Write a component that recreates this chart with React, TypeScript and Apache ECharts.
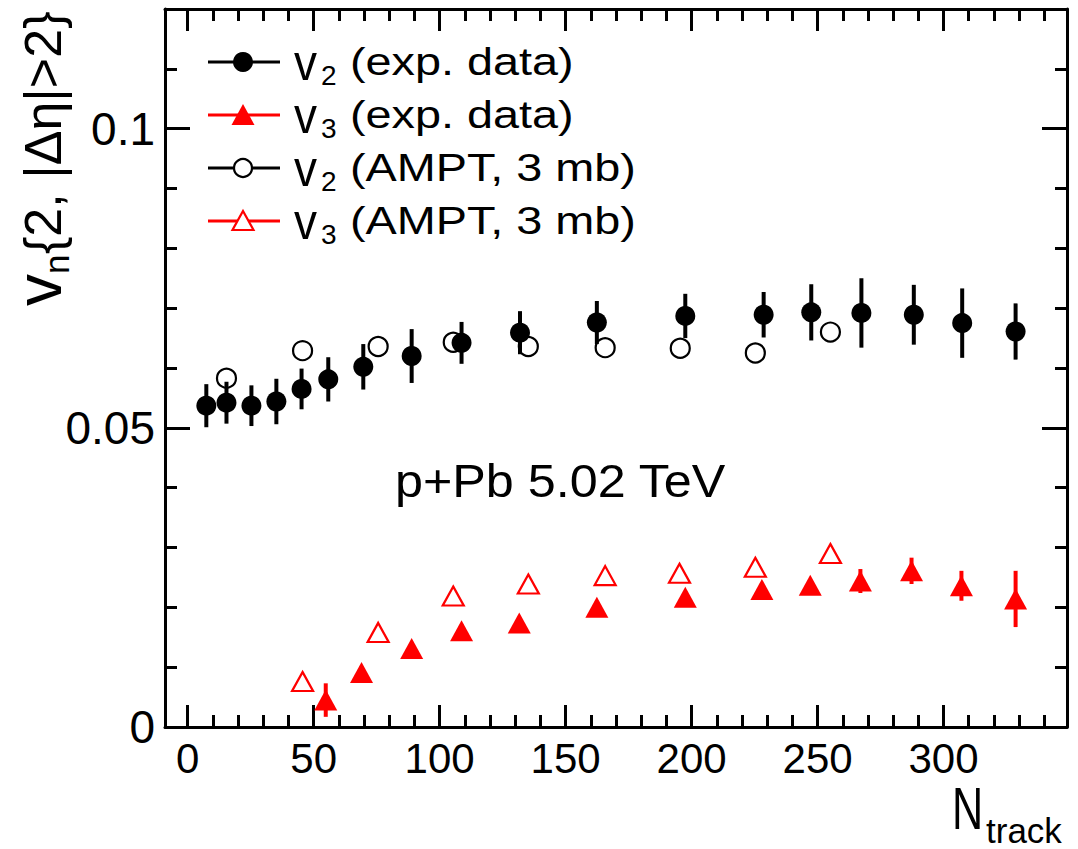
import React, { useEffect, useRef } from "react";
import * as echarts from "echarts";

const FONT = '"Liberation Sans", Arial, Helvetica, sans-serif';

// ---- axis ranges & ticks ----
const X_MIN = -9;
const X_MAX = 349;
const Y_MIN = 0;
const Y_MAX = 0.12;
const xLabelValues = [0, 50, 100, 150, 200, 250, 300];
const xMajorTicks = [0, 50, 100, 150, 200, 250, 300];
const xMinorTicks = [0, 10, 20, 30, 40, 50, 60, 70, 80, 90, 100, 110, 120, 130, 140, 150, 160, 170, 180, 190, 200, 210, 220, 230, 240, 250, 260, 270, 280, 290, 300, 310, 320, 330, 340];
const yLabelValues = [0, 0.05, 0.1];
const yMajorTicks = [0, 0.05, 0.1];
const yMinorTicks = [0, 0.01, 0.02, 0.03, 0.04, 0.05, 0.06, 0.07, 0.08, 0.09, 0.1, 0.11, 0.12];

// ---- v2 experimental data ----
const v2ExpX = [7.4, 15.4, 25.3, 35.2, 45.2, 55.8, 69.7, 88.9, 108.7, 131.9, 162.4, 197.5, 228.6, 247.5, 267.4, 288.2, 307.4, 328.6];
const v2ExpY = [0.0537, 0.0542, 0.0537, 0.0544, 0.0565, 0.0581, 0.0602, 0.062, 0.0642, 0.0659, 0.0676, 0.0687, 0.0689, 0.0693, 0.0692, 0.0689, 0.0675, 0.0661];
const v2ExpErr = [0.0036, 0.0035, 0.0034, 0.0038, 0.0034, 0.0037, 0.0038, 0.0045, 0.0035, 0.0036, 0.0036, 0.0037, 0.0038, 0.0047, 0.0058, 0.005, 0.0058, 0.0047];

// ---- v3 experimental data ----
const v3ExpX = [54.8, 69.0, 88.9, 108.7, 131.6, 162.4, 197.5, 227.9, 247.1, 267.0, 287.3, 307.1, 328.6];
const v3ExpY = [0.0045, 0.0091, 0.0131, 0.0161, 0.0174, 0.02, 0.0217, 0.023, 0.0237, 0.0244, 0.0261, 0.0236, 0.0214];
const v3ExpErr = [0.0028, 0.001, 0.001, 0.001, 0.001, 0.001, 0.001, 0.001, 0.001, 0.002, 0.0022, 0.0025, 0.0047];

// ---- AMPT ----
const v2AmptX = [15.4, 45.6, 75.6, 105.4, 135.2, 165.7, 195.5, 225.3, 255.1];
const v2AmptY = [0.0583, 0.0629, 0.0636, 0.0643, 0.0636, 0.0634, 0.0633, 0.0625, 0.066];
const v3AmptX = [45.6, 75.6, 105.4, 135.2, 165.7, 195.2, 225.3, 255.1];
const v3AmptY = [0.0076, 0.0158, 0.0219, 0.0239, 0.0253, 0.0257, 0.0267, 0.029];

// ---- legend ----
const legendMain = ["v", "v", "v", "v"];
const legendSub = ["2", "3", "2", "3"];
const legendRest = ["(exp. data)", "(exp. data)", "(AMPT, 3 mb)", "(AMPT, 3 mb)"];

const RED = "#ff0000";
const BLACK = "#000000";

const zip = (a: number[], b: number[]) => a.map((v, i) => [v, b[i]]);
const zip3 = (a: number[], b: number[], c: number[]) => a.map((v, i) => [v, b[i], c[i]]);

function errorSeries(data: number[][], color: string) {
  return {
    type: "custom",
    silent: true,
    z: 2,
    data,
    encode: { x: 0, y: 1 },
    renderItem: (_p: any, api: any) => {
      const x = api.value(0);
      const y = api.value(1);
      const e = api.value(2);
      const a = api.coord([x, y - e]);
      const b = api.coord([x, y + e]);
      return {
        type: "line",
        shape: { x1: a[0], y1: a[1], x2: b[0], y2: b[1] },
        style: { stroke: color, lineWidth: 4 },
      };
    },
  };
}

const tickStyle = { color: BLACK, width: 3 };
const lineStyle = { color: BLACK, width: 3 };

function xAxisDef(position: string, ticks: number[], len: number, labels: boolean, line: boolean) {
  return {
    type: "value",
    position,
    min: X_MIN,
    max: X_MAX,
    axisLine: { show: line, onZero: false, lineStyle },
    axisTick: { show: true, inside: true, length: len, lineStyle: tickStyle, customValues: ticks },
    axisLabel: labels
      ? { show: true, customValues: xLabelValues, margin: 10, color: BLACK, fontSize: 42, fontFamily: FONT }
      : { show: false },
    splitLine: { show: false },
  };
}

function yAxisDef(position: string, ticks: number[], len: number, labels: boolean, line: boolean) {
  return {
    type: "value",
    position,
    min: Y_MIN,
    max: Y_MAX,
    axisLine: { show: line, onZero: false, lineStyle },
    axisTick: { show: true, inside: true, length: len, lineStyle: tickStyle, customValues: ticks },
    axisLabel: labels
      ? {
          show: true,
          customValues: yLabelValues,
          margin: 10,
          color: BLACK,
          fontSize: 46,
          fontFamily: FONT,
          formatter: (v: number) => (v === 0 ? "0" : String(v)),
        }
      : { show: false },
    splitLine: { show: false },
  };
}

function txt(text: string, x: number, y: number, fontSize: number, opts: any = {}) {
  const { scaleX = 1, scaleY = 1, color = BLACK } = opts;
  return {
    type: "text",
    x,
    y,
    scaleX,
    scaleY,
    silent: true,
    style: { text, fontSize, fontFamily: FONT, fill: color, align: "left", verticalAlign: "middle" },
  };
}

function legendGraphics() {
  const rows = [62, 115, 168, 221];
  const colors = [BLACK, RED, BLACK, RED];
  const out: any[] = [];
  rows.forEach((L, i) => {
    const c = colors[i];
    out.push({
      type: "line",
      silent: true,
      shape: { x1: 208, y1: L, x2: 280, y2: L },
      style: { stroke: c, lineWidth: 3 },
    });
    if (i === 0) {
      out.push({ type: "circle", silent: true, shape: { cx: 243, cy: L, r: 10 }, style: { fill: BLACK } });
    } else if (i === 2) {
      out.push({ type: "circle", silent: true, shape: { cx: 243, cy: L, r: 9 }, style: { fill: "#fff", stroke: BLACK, lineWidth: 2.2 } });
    } else if (i === 1) {
      out.push({
        type: "polygon",
        silent: true,
        shape: { points: [[243, L - 11], [254.5, L + 10], [231.5, L + 10]] },
        style: { fill: RED },
      });
    } else {
      out.push({
        type: "polygon",
        silent: true,
        shape: { points: [[243, L - 10], [253.5, L + 9], [232.5, L + 9]] },
        style: { fill: "#fff", stroke: RED, lineWidth: 2.2 },
      });
    }
    out.push(txt(legendMain[i], 294, L, 46, { scaleY: 1.12 }));
    out.push(txt(legendSub[i], 321, L + 13, 28));
    out.push(txt(legendRest[i], 350, L - 1, 39, { scaleX: 1.2 }));
  });
  return out;
}

export default function App() {
  const ref = useRef<HTMLDivElement>(null);
  useEffect(() => {
    if (!ref.current) return;
    const chart = echarts.init(ref.current, undefined, { renderer: "svg" });
    const option: any = {
      animation: false,
      backgroundColor: "#ffffff",
      grid: { left: 165, right: 11, top: 9, bottom: 122, containLabel: false },
      xAxis: [
        xAxisDef("bottom", xMinorTicks, 12, true, true),
        xAxisDef("bottom", xMajorTicks, 22, false, false),
        xAxisDef("top", xMinorTicks, 12, false, true),
        xAxisDef("top", xMajorTicks, 22, false, false),
      ],
      yAxis: [
        yAxisDef("left", yMinorTicks, 12, true, true),
        yAxisDef("left", yMajorTicks, 25, false, false),
        yAxisDef("right", yMinorTicks, 12, false, true),
        yAxisDef("right", yMajorTicks, 25, false, false),
      ],
      series: [
        errorSeries(zip3(v2ExpX, v2ExpY, v2ExpErr), BLACK),
        errorSeries(zip3(v3ExpX, v3ExpY, v3ExpErr), RED),
        {
          type: "scatter",
          name: "v2 AMPT",
          data: zip(v2AmptX, v2AmptY),
          symbol: "circle",
          symbolSize: 19,
          z: 3,
          itemStyle: { color: "rgba(255,255,255,0)", borderColor: BLACK, borderWidth: 2.2, opacity: 1 },
        },
        {
          type: "scatter",
          name: "v3 AMPT",
          data: zip(v3AmptX, v3AmptY),
          symbol: "triangle",
          symbolSize: [21, 19],
          z: 3,
          itemStyle: { color: "rgba(255,255,255,0)", borderColor: RED, borderWidth: 2.2, opacity: 1 },
        },
        {
          type: "scatter",
          name: "v2 exp",
          data: zip(v2ExpX, v2ExpY),
          symbol: "circle",
          symbolSize: 20,
          z: 4,
          itemStyle: { color: BLACK, opacity: 1 },
        },
        {
          type: "scatter",
          name: "v3 exp",
          data: zip(v3ExpX, v3ExpY),
          symbol: "triangle",
          symbolSize: [23, 21],
          z: 4,
          itemStyle: { color: RED, opacity: 1 },
        },
      ],
      graphic: [
        ...legendGraphics(),
        txt("p+Pb 5.02 TeV", 395, 481, 47, { scaleX: 1.07 }),
        txt("N", 952, 808, 60, { scaleX: 0.72 }),
        txt("track", 986, 830, 35),
        {
          type: "group",
          x: 61,
          y: 306,
          rotation: Math.PI / 2,
          silent: true,
          children: [
            txt("v", 0, -22, 64),
            txt("n", 32, -5, 35),
            txt("{2, |\u0394\u03b7|>2}", 52, -18, 52),
          ],
        },
      ],
    };
    chart.setOption(option);
    return () => chart.dispose();
  }, []);
  return (
    <div
      ref={ref}
      style={{ position: "fixed", left: 0, top: 0, width: 1078, height: 849, background: "#fff" }}
    />
  );
}
